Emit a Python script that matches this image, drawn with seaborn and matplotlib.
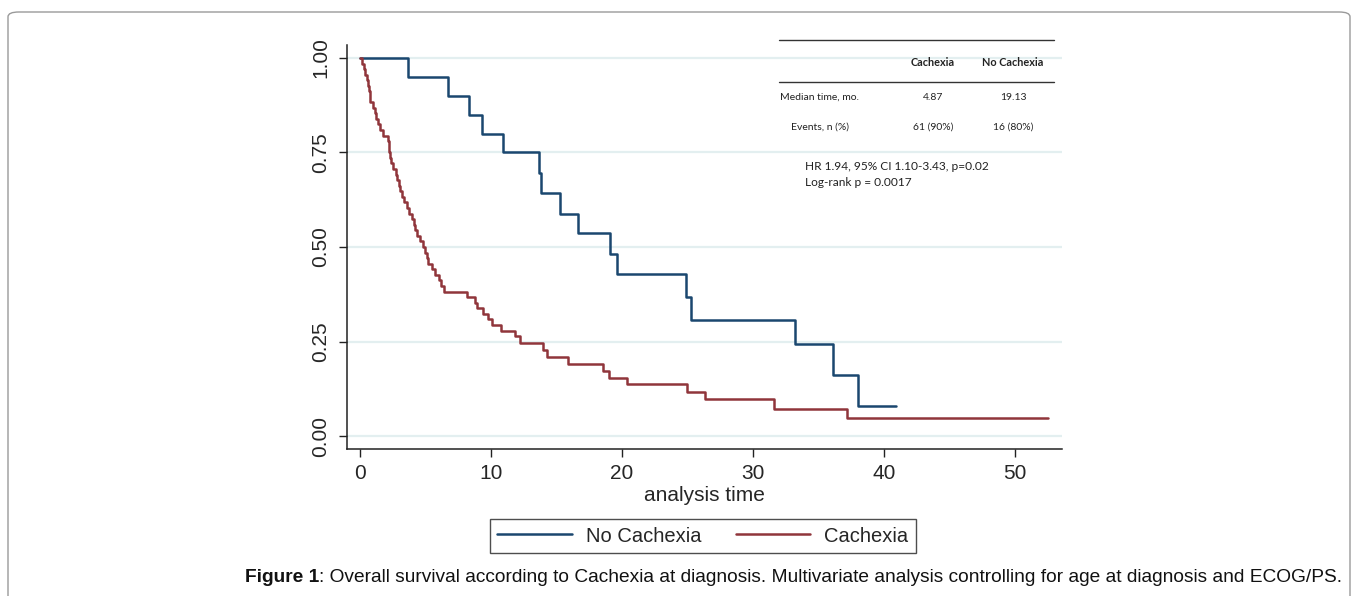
import matplotlib
matplotlib.use("Agg")
import matplotlib.pyplot as plt
from matplotlib.patches import FancyBboxPatch
from matplotlib.lines import Line2D
import numpy as np
import pandas as pd
import seaborn as sns

# Kaplan-Meier step points (time in months, survival)
no_cachexia_time = [0.0, 3.64, 6.74, 8.3, 9.31, 10.92, 13.69, 13.8, 15.27, 16.67,
                    19.08, 19.6, 24.89, 25.24, 33.2, 36.08, 38.0, 40.9]
no_cachexia_surv = [1.0, 0.95, 0.90, 0.85, 0.80, 0.75, 0.695, 0.642, 0.588, 0.536,
                    0.481, 0.429, 0.368, 0.307, 0.243, 0.162, 0.080, 0.080]

cachexia_time = [0.0, 0.15, 0.30, 0.40, 0.55, 0.65, 0.72, 0.76, 0.80, 1.02, 1.15,
                 1.25, 1.35, 1.52, 1.78, 2.11, 2.20, 2.24, 2.30, 2.35, 2.55, 2.75,
                 2.85, 2.95, 3.05, 3.23, 3.40, 3.56, 3.75, 3.94, 4.10, 4.20, 4.33,
                 4.60, 4.84, 4.96, 5.10, 5.22, 5.47, 5.70, 6.06, 6.20, 6.41, 8.14,
                 8.78, 8.90, 9.37, 9.80, 10.05, 10.74, 11.83, 12.20, 13.94, 14.30,
                 15.85, 18.57, 19.0, 20.35, 25.0, 26.34, 31.6, 37.15, 52.5]
cachexia_surv = [1.0, 0.985, 0.971, 0.956, 0.941, 0.926, 0.912, 0.897, 0.882, 0.867,
                 0.853, 0.838, 0.824, 0.809, 0.794, 0.779, 0.765, 0.750, 0.735,
                 0.721, 0.706, 0.691, 0.676, 0.662, 0.647, 0.632, 0.618, 0.603,
                 0.588, 0.574, 0.559, 0.544, 0.529, 0.515, 0.500, 0.485, 0.471,
                 0.456, 0.441, 0.426, 0.412, 0.397, 0.382, 0.368, 0.353, 0.338,
                 0.324, 0.309, 0.294, 0.279, 0.265, 0.245, 0.228, 0.210, 0.190,
                 0.173, 0.155, 0.138, 0.117, 0.098, 0.073, 0.049, 0.049]

groups = ["No Cachexia", "Cachexia"]
colors = {"No Cachexia": "#1a476f", "Cachexia": "#90353b"}

x_ticks = [0, 10, 20, 30, 40, 50]
y_ticks = [0.0, 0.25, 0.5, 0.75, 1.0]
y_ticklabels = ["0.00", "0.25", "0.50", "0.75", "1.00"]

table_cols = ["Cachexia", "No Cachexia"]
table_rows = ["Median time, mo.", "Events, n (%)"]
table_vals = [["4.87", "19.13"], ["61 (90%)", "16 (80%)"]]
stats_lines = ["HR 1.94, 95% CI 1.10-3.43, p=0.02", "Log-rank p = 0.0017"]

df = pd.concat([
    pd.DataFrame({"time": no_cachexia_time, "surv": no_cachexia_surv, "group": "No Cachexia"}),
    pd.DataFrame({"time": cachexia_time, "surv": cachexia_surv, "group": "Cachexia"}),
])

sns.set_theme(style="white")
plt.rcParams["font.family"] = ["Liberation Sans", "DejaVu Sans"]

W, H = 1358, 596
fig = plt.figure(figsize=(W / 100, H / 100), dpi=100)
fig.patch.set_facecolor("white")

def fx(px):
    return px / W

def fy(py):
    return 1 - py / H

# outer rounded frame
frame = FancyBboxPatch((fx(8), fy(630)), fx(1350) - fx(8), fy(12) - fy(630),
                       boxstyle="round,pad=0,rounding_size=0.008",
                       transform=fig.transFigure, fill=False,
                       edgecolor="#9a9a9a", linewidth=1.0)
fig.patches.append(frame)

ax = fig.add_axes([fx(347), fy(449), fx(1062) - fx(347), fy(45) - fy(449)])

for yv in y_ticks:
    ax.axhline(yv, color="#e3eff0", linewidth=1.6, zorder=0)

sns.lineplot(data=df, x="time", y="surv", hue="group", hue_order=groups,
             palette=colors, drawstyle="steps-post", estimator=None,
             linewidth=1.8, legend=False, ax=ax)

ax.set_xlim(-0.99, 53.6)
ax.set_ylim(-0.034, 1.034)
ax.set_xticks(x_ticks)
ax.set_yticks(y_ticks)
ax.set_yticklabels(y_ticklabels, rotation=90, va="center")
ax.tick_params(axis="both", direction="out", length=6, width=1.0,
               color="#222222", labelsize=15, pad=5, left=True, bottom=True)
ax.tick_params(axis="y", pad=6)
ax.set_xlabel("analysis time", fontsize=15, labelpad=2)
ax.set_ylabel("")
ax.grid(False)
for side in ["top", "right"]:
    ax.spines[side].set_visible(False)
for side in ["left", "bottom"]:
    ax.spines[side].set_color("#222222")
    ax.spines[side].set_linewidth(1.1)

# summary table in the top right corner
tfont = ["Lato", "DejaVu Sans"]
fig.add_artist(Line2D([fx(779), fx(1054)], [fy(40), fy(40)], color="#333333", lw=1.0))
fig.add_artist(Line2D([fx(779), fx(1054)], [fy(82), fy(82)], color="#333333", lw=1.0))
col_x = [933, 1013]
for cx, name in zip(col_x, table_cols):
    fig.text(fx(cx), fy(62), name, ha="center", va="center", fontsize=7.8,
             fontweight="bold", family=tfont, color="#222222")
row_y = [97, 127]
for ry, rname, vals in zip(row_y, table_rows, table_vals):
    fig.text(fx(820), fy(ry), rname, ha="center", va="center", fontsize=7.5,
             family=tfont, color="#222222")
    for cx, v in zip(col_x, vals):
        fig.text(fx(cx), fy(ry), v, ha="center", va="center", fontsize=7.5,
                 family=tfont, color="#222222")
for i, line in enumerate(stats_lines):
    fig.text(fx(805), fy(166 + 17 * i), line, ha="left", va="center",
             fontsize=8.6, family=tfont, color="#222222")

# legend box below the plot
handles = [Line2D([], [], color=colors[g], lw=1.8) for g in groups]
leg = fig.legend(handles, groups, loc="center", bbox_to_anchor=(fx(703), fy(536)),
                 ncol=2, frameon=True, fancybox=False, fontsize=14.5,
                 handlelength=3.7, handletextpad=0.7, columnspacing=1.7,
                 borderpad=0.35, borderaxespad=0)
leg.get_frame().set_edgecolor("#222222")
leg.get_frame().set_linewidth(1.0)

# caption
fig.canvas.draw()
bold = fig.text(fx(245), fy(578), "Figure 1", ha="left", va="center",
                fontsize=13.8, fontweight="bold", color="#111111")
fig.canvas.draw()
bb = bold.get_window_extent()
fig.text(bb.x1 / W, fy(578),
         ": Overall survival according to Cachexia at diagnosis. Multivariate analysis "
         "controlling for age at diagnosis and ECOG/PS.",
         ha="left", va="center", fontsize=13.8, color="#111111")

fig.savefig("out.png", dpi=100)
